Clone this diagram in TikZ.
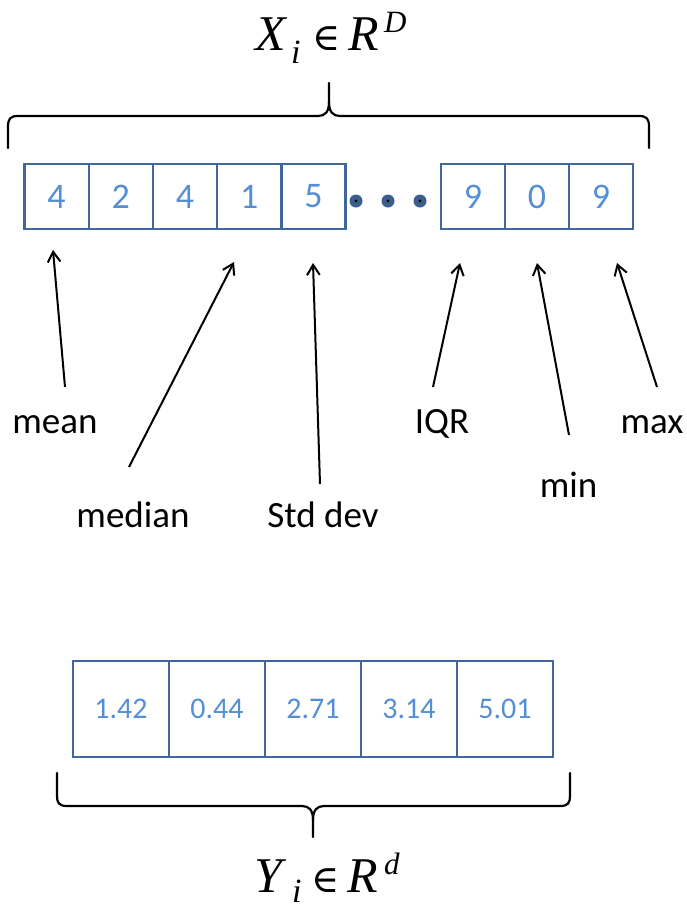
\documentclass[tikz,border=0pt]{standalone}
\usepackage{fontspec}
\setmainfont{Carlito}
\newfontfamily\tnr{Liberation Serif}
\newfontfamily\dvs{DejaVu Serif}
\usetikzlibrary{arrows.meta}
\definecolor{boxline}{HTML}{41669A}
\definecolor{digit}{HTML}{558ED5}
\definecolor{dotfill}{HTML}{3A5F8F}
\tikzset{
 cell/.style={draw=boxline, line width=2.4pt, minimum width=64.2pt, minimum height=65pt, inner sep=0pt, text=digit, font=\fontsize{36}{40}\selectfont},
 bcell/.style={draw=boxline, line width=2.4pt, minimum width=96pt, minimum height=96pt, inner sep=0pt, text=digit, font=\fontsize{30}{34}\selectfont},
 lbl/.style={anchor=base, inner sep=0pt, font=\fontsize{37}{40}\selectfont},
 arr/.style={line width=2pt, -{Straight Barb[angle=64:12pt]}},
 brace/.style={line width=2.2pt, line cap=round, line join=round},
 dotc/.style={circle, fill=dotfill, minimum size=13pt, inner sep=0pt},
 formula/.style={anchor=base west, inner sep=0pt, font=\tnr\fontsize{50}{54}\selectfont},
}
\newcommand{\subi}[1]{\raisebox{#1}{\fontsize{34}{36}\selectfont\textit{i}}}
\newcommand{\elem}{{\dvs\fontsize{38}{40}\selectfont ∈}}
\newcommand{\supx}[2]{\raisebox{#1}{\fontsize{31}{33}\selectfont\textit{#2}}}
\begin{document}
\begin{tikzpicture}[x=1pt,y=-1pt]
\useasboundingbox (0,0) rectangle (687,911);

% top formula
\node[formula] (xform) at (255,50) {\rlap{\textit{X}}\hspace{36pt}\rlap{\subi{-13pt}}\hspace{21pt}\rlap{\elem}\hspace{36pt}\rlap{\textit{R}}\hspace{36pt}\supx{18pt}{D}};

% top brace
\draw[brace] (8,148) -- (8,127) .. controls (8,119) and (10,116) .. (18,116) -- (318,116) .. controls (325,116) and (329,112) .. (329,102) -- (329,83);
\draw[brace] (649,148) -- (649,127) .. controls (649,119) and (647,116) .. (639,116) -- (340,116) .. controls (333,116) and (329,112) .. (329,102);

% top cells
\node[cell] (c1) at (56.6,196.5) {4};
\node[cell] (c2) at (120.8,196.5) {2};
\node[cell] (c3) at (185.0,196.5) {4};
\node[cell] (c4) at (249.2,196.5) {1};
\node[cell] (c5) at (313.4,196.5) {5};
\node[cell] (c6) at (473,196.5) {9};
\node[cell] (c7) at (537,196.5) {0};
\node[cell] (c8) at (601,196.5) {9};

% dots
\node[dotc] (d1) at (356,201) {};
\node[dotc] (d2) at (388,201) {};
\node[dotc] (d3) at (420,201) {};
\foreach \d in {d1,d2,d3} \fill[black] (\d) circle (1.6pt);

% labels
\node[lbl] (lmean) at (55,433) {mean};
\node[lbl] (lmedian) at (133,527) {median};
\node[lbl] (lstd) at (323,527) {Std dev};
\node[lbl] (liqr) at (442,433) {IQR};
\node[lbl] (lmin) at (568.5,497) {min};
\node[lbl] (lmax) at (652,433) {max};

% arrow ends
\coordinate (tmean) at (65,387);   \coordinate (hmean) at (53,250);
\coordinate (tmedian) at (129,467); \coordinate (hmedian) at (234,262);
\coordinate (tstd) at (320,484);   \coordinate (hstd) at (313,263);
\coordinate (tiqr) at (433,387);   \coordinate (hiqr) at (460,263);
\coordinate (tmin) at (569,435);   \coordinate (hmin) at (537,263);
\coordinate (tmax) at (657,387);   \coordinate (hmax) at (617,263);
\draw[arr] (tmean) -- (hmean);
\draw[arr] (tmedian) -- (hmedian);
\draw[arr] (tstd) -- (hstd);
\draw[arr] (tiqr) -- (hiqr);
\draw[arr] (tmin) -- (hmin);
\draw[arr] (tmax) -- (hmax);

% bottom cells
\node[bcell] (b1) at (121,709) {1.42};
\node[bcell] (b2) at (217,709) {0.44};
\node[bcell] (b3) at (313,709) {2.71};
\node[bcell] (b4) at (409,709) {3.14};
\node[bcell] (b5) at (505,709) {5.01};

% bottom brace
\draw[brace] (57,773) -- (57,796) .. controls (57,803) and (59,806) .. (67,806) -- (302,806) .. controls (309,806) and (313,810) .. (313,820) -- (313,837);
\draw[brace] (570,773) -- (570,796) .. controls (570,803) and (568,806) .. (560,806) -- (324,806) .. controls (317,806) and (313,810) .. (313,820);

% bottom formula
\node[formula] (yform) at (254,892) {\rlap{\textit{Y}}\hspace{38pt}\rlap{\subi{-10pt}}\hspace{19pt}\rlap{\elem}\hspace{36pt}\rlap{\textit{R}}\hspace{37pt}\supx{18pt}{d}};
\end{tikzpicture}
\end{document}
